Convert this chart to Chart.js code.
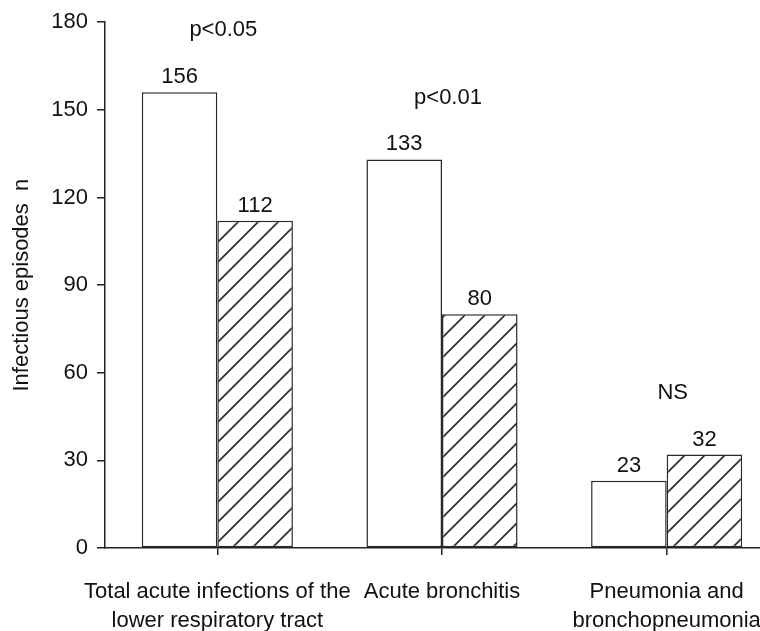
<!DOCTYPE html>
<html>
<head>
<meta charset="utf-8">
<script src="https://cdn.jsdelivr.net/npm/chart.js@4.4.1/dist/chart.umd.min.js"></script>
<style>
  html, body { margin: 0; padding: 0; background: #ffffff; overflow: hidden; }
  #wrap { width: 779px; height: 631px; position: relative; }
</style>
</head>
<body>
<div id="wrap"><canvas id="chart"></canvas></div>
<script>
// ---- Data ----
const categories = [
  ["Total acute infections of the", "lower respiratory tract"],
  ["Acute bronchitis"],
  ["Pneumonia and", "bronchopneumonia"]
];
const seriesOpen = [156, 133, 23];     // white bars
const seriesHatched = [112, 80, 32];   // hatched bars
const significance = ["p<0.05", "p<0.01", "NS"];
const yMin = 0, yMax = 180, yStep = 30;
const yTitle = "Infectious episodes  n";

// ---- Styles ----
const FONT_FAMILY = '"Liberation Sans", Arial, Helvetica, sans-serif';
const FONT_SIZE = 22;
const INK = '#111111';
const LINE = '#222222';

function hatchPattern() {
  const s = 20;
  const c = document.createElement('canvas');
  c.width = s; c.height = s;
  const g = c.getContext('2d');
  g.fillStyle = '#ffffff';
  g.fillRect(0, 0, s, s);
  g.strokeStyle = '#2e2e2e';
  g.lineWidth = 1.7;
  g.beginPath();
  g.moveTo(-s, 2 * s); g.lineTo(2 * s, -s);
  g.moveTo(-s, s); g.lineTo(s, -s);
  g.moveTo(0, 2 * s); g.lineTo(2 * s, 0);
  g.stroke();
  return g.createPattern(c, 'repeat');
}

const labelPlugin = {
  id: 'valueLabels',
  afterDatasetsDraw(chart) {
    const ctx = chart.ctx;
    ctx.save();
    ctx.font = FONT_SIZE + 'px ' + FONT_FAMILY;
    ctx.fillStyle = INK;
    ctx.textAlign = 'center';
    ctx.textBaseline = 'alphabetic';
    chart.data.datasets.forEach((ds, di) => {
      const meta = chart.getDatasetMeta(di);
      meta.data.forEach((bar, i) => {
        ctx.fillText(String(ds.data[i]), bar.x, bar.y - 9);
      });
    });
    const xs = chart.scales.x, ys = chart.scales.y;
    ctx.textBaseline = 'middle';
    significance.forEach((t, i) => {
      const top = ys.getPixelForValue(Math.max(seriesOpen[i], seriesHatched[i]));
      ctx.fillText(t, xs.getPixelForValue(i) + 6, top - 62);
    });
    ctx.restore();
  }
};

const font = { family: FONT_FAMILY, size: FONT_SIZE };

new Chart(document.getElementById('chart'), {
  type: 'bar',
  data: {
    labels: categories,
    datasets: [
      {
        data: seriesOpen,
        backgroundColor: '#ffffff',
        borderColor: '#2a2a2a',
        borderWidth: 1.5,
        borderSkipped: false
      },
      {
        data: seriesHatched,
        backgroundColor: hatchPattern(),
        borderColor: '#2a2a2a',
        borderWidth: 1.5,
        borderSkipped: false
      }
    ]
  },
  options: {
    responsive: true,
    maintainAspectRatio: false,
    animation: false,
    devicePixelRatio: 1,
    categoryPercentage: 0.6726,
    barPercentage: 1.0,
    layout: { padding: { top: 22, right: 0, bottom: 0, left: 0 } },
    plugins: {
      legend: { display: false },
      tooltip: { enabled: false },
      title: { display: false }
    },
    scales: {
      x: {
        offset: true,
        grid: { display: true, drawOnChartArea: false, offset: false, tickLength: 7, color: LINE, lineWidth: 1.5 },
        border: { display: true, color: LINE, width: 1.5 },
        ticks: { font: Object.assign({ lineHeight: 1.33 }, font), color: INK, padding: 22, maxRotation: 0, minRotation: 0, autoSkip: false },
        afterFit(s) { s.height = 83; s.paddingLeft = 0; s.paddingRight = 0; }
      },
      y: {
        min: yMin,
        max: yMax,
        grid: { display: true, drawOnChartArea: false, tickLength: 8, color: LINE, lineWidth: 1.5 },
        border: { display: true, color: LINE, width: 1.5 },
        ticks: { stepSize: yStep, font: font, color: INK, padding: 9 },
        title: { display: true, text: yTitle, font: font, color: INK, padding: { top: 9, bottom: 0 } },
        afterFit(s) { s.width = 105; }
      }
    }
  },
  plugins: [labelPlugin]
});
</script>
</body>
</html>
